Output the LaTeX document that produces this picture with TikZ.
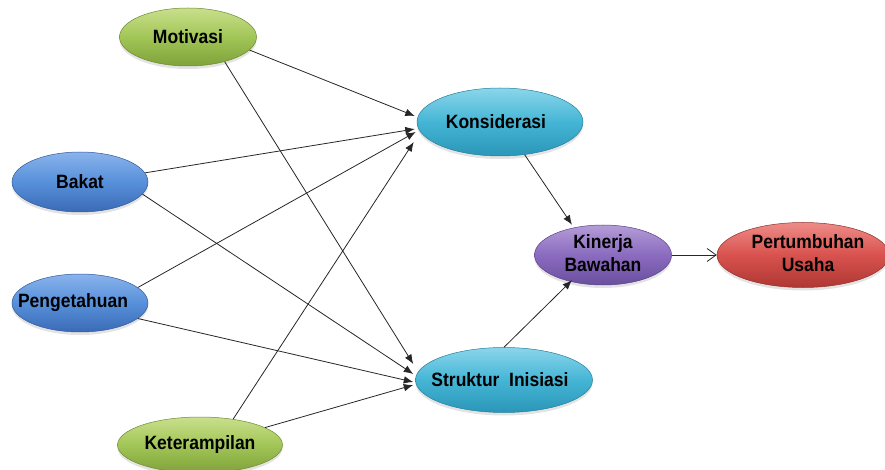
\documentclass[tikz,border=0pt]{standalone}
\usepackage{fontspec}
\setmainfont{Liberation Sans}
\usetikzlibrary{shapes.geometric,arrows.meta,shadows}
\definecolor{gA}{HTML}{C9E08C}\definecolor{gB}{HTML}{A2C557}\definecolor{gC}{HTML}{7FA23A}
\definecolor{bA}{HTML}{8AB3EC}\definecolor{bB}{HTML}{5790DA}\definecolor{bC}{HTML}{3B6AB5}
\definecolor{cA}{HTML}{8AD6EB}\definecolor{cB}{HTML}{45B5D5}\definecolor{cC}{HTML}{2A96B8}
\definecolor{pA}{HTML}{B49CD7}\definecolor{pB}{HTML}{8A6BBF}\definecolor{pC}{HTML}{6A4F9E}
\definecolor{rA}{HTML}{EE8C88}\definecolor{rB}{HTML}{D8524E}\definecolor{rC}{HTML}{AE3733}
\newcommand{\tall}[1]{\scalebox{1}[1.1]{#1}}
\tikzset{
  oval/.style={ellipse, inner sep=0pt, text=black,
    font=\bfseries\fontsize{17.5}{21}\selectfont,
    drop shadow={shadow xshift=0pt, shadow yshift=-3pt, opacity=0.22}},
  gnode/.style={oval, top color=gA, bottom color=gC, middle color=gB, draw=gC!85!black, line width=0.5pt},
  bnode/.style={oval, top color=bA, bottom color=bC, middle color=bB, draw=bC!85!black, line width=0.5pt},
  cnode/.style={oval, top color=cA, bottom color=cC, middle color=cB, draw=cC!85!black, line width=0.5pt},
  pnode/.style={oval, top color=pA, bottom color=pC, middle color=pB, draw=pC!85!black, line width=0.5pt},
  rnode/.style={oval, top color=rA, bottom color=rC, middle color=rB, draw=rC!85!black, line width=0.5pt},
  link/.style={line width=0.8pt, draw=black!85, -{Latex[length=9.5pt,width=7.5pt]}},
  openlink/.style={line width=0.8pt, draw=black!85, -{Straight Barb[length=9pt,width=13pt]}}
}
\begin{document}
\begin{tikzpicture}[x=1pt,y=-1pt]
\useasboundingbox (0,0) rectangle (885,470);
\node[gnode, minimum width=137pt, minimum height=58pt] (mot) at (188,37) {\makebox[0pt]{\tall{Motivasi}}};
\node[bnode, minimum width=136pt, minimum height=60pt] (bak) at (80,182) {\makebox[0pt]{\tall{Bakat}}};
\node[bnode, minimum width=136pt, minimum height=58pt] (pen) at (80,303) {\makebox[0pt]{\hspace*{-14pt}\tall{Pengetahuan}}};
\node[gnode, minimum width=165pt, minimum height=56pt] (ket) at (200,445) {\makebox[0pt]{\tall{Keterampilan}}};
\node[cnode, minimum width=166pt, minimum height=68pt] (kon) at (500,122) {\makebox[0pt]{\hspace*{-8pt}\tall{Konsiderasi}}};
\node[cnode, minimum width=177pt, minimum height=65pt] (str) at (504,380) {\makebox[0pt]{\hspace*{-8pt}\tall{Struktur\hspace{0.55em}Inisiasi}}};
\node[pnode, inner ysep=-10pt, minimum width=137pt, minimum height=60pt] (kin) at (603,255) {\makebox[0pt]{\tall{\begin{tabular}{@{}c@{}}Kinerja\\Bawahan\end{tabular}}}};
\node[rnode, inner ysep=-10pt, minimum width=172pt, minimum height=65pt] (per) at (803,255) {\makebox[0pt]{\hspace*{10pt}\tall{\begin{tabular}{@{}c@{}}Pertumbuhan\\Usaha\end{tabular}}}};
\draw[link] (mot.-12) -- ([shift={(-2,-6)}]kon.west);
\draw[link] (mot.-34) -- ([shift={(-2,-16)}]str.west);
\draw[link] (bak.8) -- ([shift={(-2,7)}]kon.west);
\draw[link] (bak.-11) -- ([shift={(-2,-6)}]str.west);
\draw[link] (pen.15) -- ([shift={(-1,10)}]kon.west);
\draw[link] (pen.-15) -- ([shift={(-2,2)}]str.west);
\draw[link] (ket.38) -- ([shift={(-3,20)}]kon.west);
\draw[link] (ket.15) -- ([shift={(-2,5)}]str.west);
\draw[link] (kon.-53) -- ([xshift=-31pt]kin.north);
\draw[link] (str.north) -- ([shift={(-31,-5)}]kin.south);
\draw[openlink] (kin.east) -- (per.west);
\end{tikzpicture}
\end{document}
